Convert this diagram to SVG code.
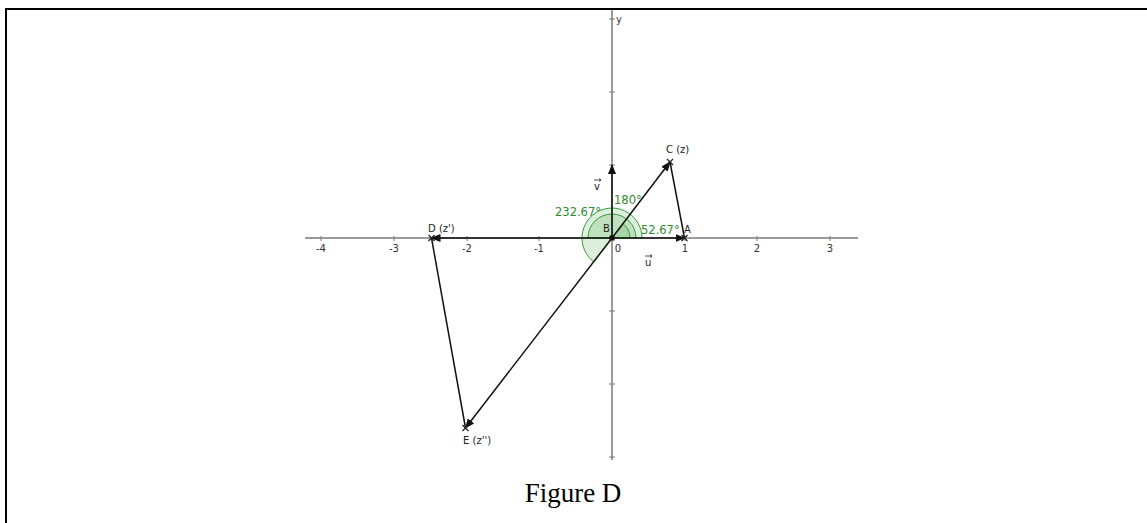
<svg xmlns="http://www.w3.org/2000/svg" width="1147" height="523" viewBox="0 0 1147 523">
<style>
.ax{stroke:#7a7a7a;stroke-width:1.5;fill:none}
.tk{stroke:#7a7a7a;stroke-width:1}
.vec{stroke:#111;stroke-width:1.5;fill:none}
.seg{stroke:#111;stroke-width:1.5;fill:none}
.ang{fill:#2e9a2e;fill-opacity:0.16;stroke:#3a9a3a;stroke-width:1}
.lbl{font-family:"DejaVu Sans",sans-serif;font-size:10px;fill:#222}
.num{font-family:"DejaVu Sans",sans-serif;font-size:10px;fill:#333}
.gr{font-family:"DejaVu Sans",sans-serif;font-size:11.5px;fill:#2e8b2e}
.pt{stroke:#222;stroke-width:1.3}
.sm{stroke:#222;stroke-width:0.8;fill:none}
.cap{font-family:"Liberation Serif",serif;font-size:27px;fill:#000}
</style>
<defs>
<marker id="ah" markerWidth="10" markerHeight="8" refX="9" refY="4" orient="auto" markerUnits="userSpaceOnUse">
<path d="M0,0 L10,4 L0,8 Z" fill="#111"/>
</marker>
</defs>
<g id="frame">
<line x1="5" y1="9" x2="1147" y2="9" stroke="#000" stroke-width="2"/>
<line x1="6" y1="8" x2="6" y2="523" stroke="#000" stroke-width="2"/>
</g>
<g id="axes">
<line class="ax" x1="305" y1="238" x2="858" y2="238"/>
<line class="ax" x1="612" y1="10" x2="612" y2="460"/>
<line class="tk" x1="321" y1="236" x2="321" y2="241"/>
<line class="tk" x1="394" y1="236" x2="394" y2="241"/>
<line class="tk" x1="467" y1="236" x2="467" y2="241"/>
<line class="tk" x1="539" y1="236" x2="539" y2="241"/>
<line class="tk" x1="685" y1="236" x2="685" y2="241"/>
<line class="tk" x1="757" y1="236" x2="757" y2="241"/>
<line class="tk" x1="830" y1="236" x2="830" y2="241"/>
<line class="tk" x1="609" y1="19" x2="615" y2="19"/>
<line class="tk" x1="609" y1="92" x2="615" y2="92"/>
<line class="tk" x1="609" y1="165" x2="615" y2="165"/>
<line class="tk" x1="609" y1="311" x2="615" y2="311"/>
<line class="tk" x1="609" y1="384" x2="615" y2="384"/>
<line class="tk" x1="609" y1="457" x2="615" y2="457"/>
<text class="num" x="321" y="252" text-anchor="middle">-4</text>
<text class="num" x="394" y="252" text-anchor="middle">-3</text>
<text class="num" x="467" y="252" text-anchor="middle">-2</text>
<text class="num" x="539" y="252" text-anchor="middle">-1</text>
<text class="num" x="618" y="252" text-anchor="middle">0</text>
<text class="num" x="685" y="252" text-anchor="middle">1</text>
<text class="num" x="757" y="252" text-anchor="middle">2</text>
<text class="num" x="830" y="252" text-anchor="middle">3</text>
<text class="num" x="616" y="23">y</text>
</g>
<g id="angles">
<path class="ang" d="M612,238 L642,238 A30,30 0 1 0 593.8,261.9 Z"/>
<path class="ang" d="M612,238 L636,238 A24,24 0 0 0 588,238 Z"/>
<path class="ang" d="M612,238 L630,238 A18,18 0 0 0 622.9,223.7 Z"/>
<text class="gr" x="555" y="216">232.67°</text>
<text class="gr" x="614" y="204">180°</text>
<text class="gr" x="641" y="234">52.67°</text>
</g>
<g id="connectors">
<line class="vec" x1="612" y1="238" x2="684.5" y2="238" marker-end="url(#ah)"/>
<line class="vec" x1="612" y1="238" x2="612" y2="165" marker-end="url(#ah)"/>
<line class="vec" x1="612" y1="238" x2="670" y2="162" marker-end="url(#ah)"/>
<line class="seg" x1="670" y1="162" x2="684.5" y2="238"/>
<line class="vec" x1="612" y1="238" x2="431.5" y2="238" marker-end="url(#ah)"/>
<line class="seg" x1="431.5" y1="238" x2="465.5" y2="428"/>
<line class="vec" x1="612" y1="238" x2="465.5" y2="428" marker-end="url(#ah)"/>
</g>
<g id="B">
<rect x="609.5" y="235.5" width="5" height="5" fill="#111"/>
<text class="lbl" x="603" y="232">B</text>
</g>
<g id="A">
<path class="pt" d="M681.5,235 L687.5,241 M687.5,235 L681.5,241"/>
<text class="lbl" x="684" y="233">A</text>
</g>
<g id="C">
<path class="pt" d="M667,159 L673,165 M673,159 L667,165"/>
<text class="lbl" x="666" y="153">C (z)</text>
</g>
<g id="D">
<path class="pt" d="M428.5,235 L434.5,241 M434.5,235 L428.5,241"/>
<text class="lbl" x="428" y="232">D (z')</text>
</g>
<g id="E">
<path class="pt" d="M462.5,425 L468.5,431 M468.5,425 L462.5,431"/>
<text class="lbl" x="463" y="444">E (z'')</text>
</g>
<g id="u">
<text class="lbl" x="645" y="266">u</text>
<path class="sm" d="M645,256 L652,256 M650,254.5 L652,256 L650,257.5"/>
</g>
<g id="v">
<text class="lbl" x="594" y="190">v</text>
<path class="sm" d="M594,180 L601,180 M599,178.5 L601,180 L599,181.5"/>
</g>
<g id="caption">
<text class="cap" x="573" y="502" text-anchor="middle">Figure D</text>
</g>
</svg>
